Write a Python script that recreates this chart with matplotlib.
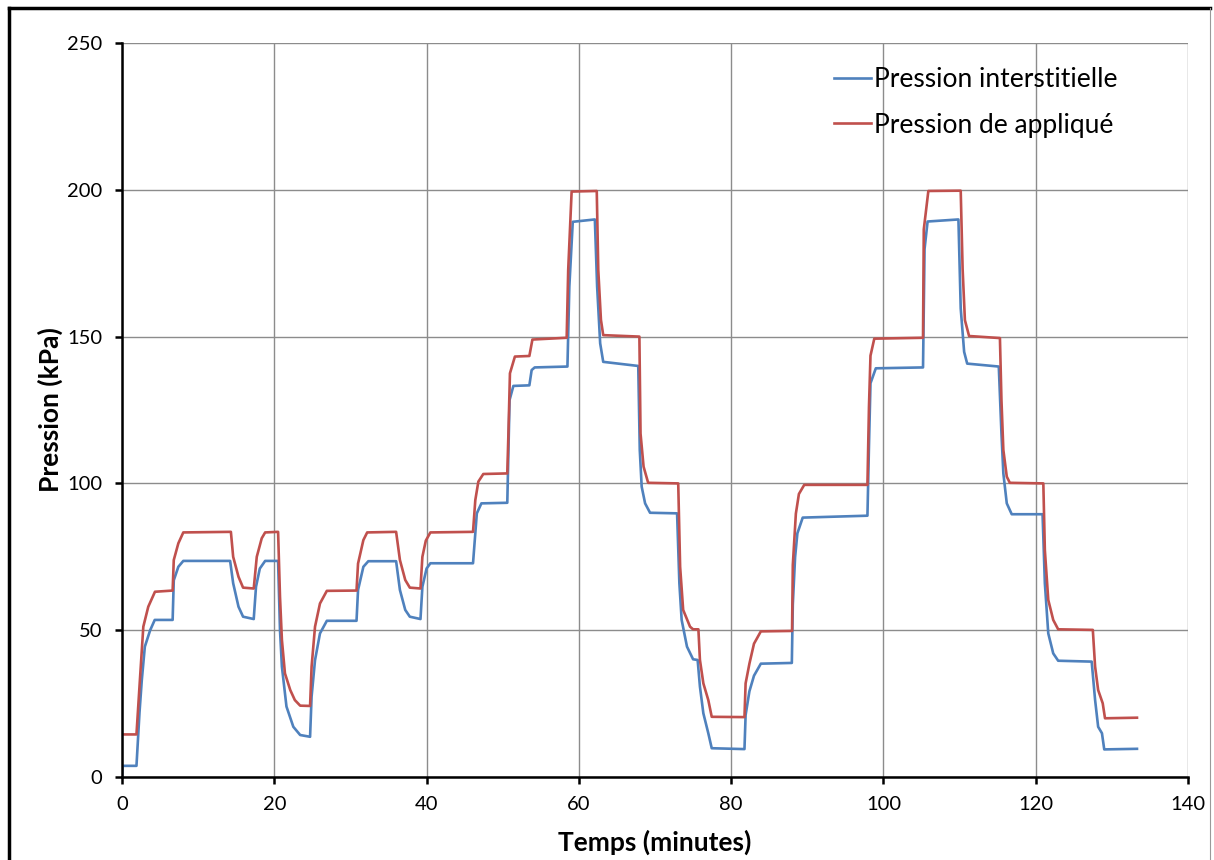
import matplotlib
matplotlib.use('Agg')
import matplotlib.pyplot as plt
from matplotlib.lines import Line2D

matplotlib.rc('font', family=['Lato', 'DejaVu Sans'])

# temps (minutes) et pression interstitielle (kPa)
t_int = [0, 0.05, 1.9, 2.3, 2.6, 3.0, 3.7, 4.3, 6.65, 6.8, 7.4, 8.05, 14.2, 14.6, 15.3, 15.9,
         17.3, 17.6, 18.1, 18.8, 20.5, 20.75, 21.0, 21.6, 22.5, 23.4, 24.7, 24.9, 25.35, 26.0,
         26.9, 30.8, 31.0, 31.7, 32.35, 36.0, 36.5, 37.2, 37.8, 39.2, 39.45, 40.0, 40.5, 46.1,
         46.6, 47.2, 50.6, 50.9, 51.4, 53.5, 53.8, 54.2, 58.5, 58.75, 59.2, 62.1, 62.4, 62.8,
         63.2, 67.8, 68.0, 68.25, 68.7, 69.35, 72.9, 73.2, 73.5, 74.2, 75.0, 75.6, 75.9, 76.35,
         77.0, 77.45, 81.75, 81.9, 82.4, 83.0, 83.9, 87.97, 88.1, 88.4, 88.7, 89.4, 97.9, 98.1,
         98.3, 99.0, 105.2, 105.4, 105.8, 109.85, 110.15, 110.6, 111.0, 115.15, 115.5, 115.75,
         116.2, 116.85, 120.9, 121.2, 121.65, 122.3, 122.95, 127.35, 127.8, 128.2, 128.7, 129.0,
         133.3]
p_int = [0, 3.8, 3.8, 22, 33, 44.4, 50, 53.5, 53.5, 67, 71.6, 73.6, 73.6, 66, 58, 54.6,
         53.8, 64.8, 71, 73.6, 73.6, 50, 37.6, 24, 17.1, 14.3, 13.7, 27.4, 39.8, 48.9,
         53.2, 53.2, 63.7, 71.6, 73.5, 73.5, 63.7, 56.9, 54.6, 53.8, 64.8, 71, 72.8, 72.8,
         89.8, 93.2, 93.4, 128.4, 133.2, 133.4, 138.6, 139.5, 139.8, 167, 189.1, 189.9, 167, 147.7,
         141.4, 140.0, 111.4, 98.9, 93.2, 90, 89.8, 66, 53.5, 44.4, 40.1, 39.85, 30.8, 21.7,
         14.9, 9.8, 9.5, 21.1, 29.2, 34.5, 38.6, 38.85, 58.8, 74.9, 83, 88.35, 89, 112.6,
         134.1, 139.2, 139.5, 179.8, 189.2, 189.9, 159.6, 144.8, 140.8, 139.8, 117, 103.4,
         93.2, 89.5, 89.5, 66, 48.9, 42.1, 39.6, 39.3, 26.2, 17.1, 14.9, 9.4,
         9.6]

# temps (minutes) et pression appliquee (kPa)
t_app = [0, 1.9, 2.35, 2.8, 3.45, 4.33, 6.65, 6.8, 7.4, 8.05, 14.3, 14.6, 15.3, 15.9, 17.3,
         17.7, 18.35, 18.8, 20.5, 20.75, 21.0, 21.4, 22.1, 22.7, 23.4, 24.7, 24.9, 25.35, 26.0,
         26.9, 30.8, 31.0, 31.7, 32.2, 36.0, 36.5, 37.2, 37.8, 39.2, 39.45, 39.9, 40.5, 46.1,
         46.4, 46.8, 47.45, 50.6, 50.75, 50.95, 51.6, 53.5, 53.9, 58.4, 58.6, 59.05, 62.35,
         62.55, 62.9, 63.2, 67.95, 68.1, 68.5, 69.1, 73.05, 73.3, 73.7, 74.6, 75.0, 75.7, 75.9,
         76.35, 77.0, 77.45, 81.75, 81.9, 82.4, 83.0, 83.9, 88.0, 88.1, 88.5, 88.9, 89.6, 97.9,
         98.1, 98.3, 98.8, 105.2, 105.3, 105.9, 110.15, 110.4, 110.7, 111.25, 115.3, 115.5,
         115.75, 116.2, 116.6, 121.0, 121.2, 121.65, 122.3, 122.95, 127.5, 127.8, 128.2, 128.8,
         129.1, 133.3]
p_app = [14.5, 14.5, 33, 51.2, 58, 63.1, 63.5, 73.9, 79.6, 83.3, 83.5, 75, 68.2, 64.5, 64.2,
         75, 81.3, 83.3, 83.5, 61.4, 46.7, 35.3, 29.6, 26.2, 24.3, 24.2, 37.6, 51.2, 59.1,
         63.4, 63.5, 72.7, 80.7, 83.3, 83.5, 73.9, 67.1, 64.5, 64.2, 75, 80.5, 83.3, 83.5,
         94.3, 100.6, 103.2, 103.4, 117, 137.5, 143.2, 143.4, 149, 149.6, 172.7, 199.4, 199.6,
         172.7, 155.7, 150.5, 150, 117, 105.7, 100.2, 100, 71.6, 56.9, 51.2, 50.3, 50.3, 39.9,
         31.9, 26.2, 20.5, 20.4, 31.9, 38.6, 45.4, 49.6, 49.75, 72.2, 89.7, 96.4, 99.5, 99.5,
         126, 143.5, 149.3, 149.6, 186.5, 199.6, 199.7, 173, 155.6, 150.2, 149.5, 128.4,
         111.4, 102.3, 100.2, 100, 77.3, 60.3, 53.5, 50.3, 50.1, 37.6, 29.6, 25.1,
         20, 20.2]

fig = plt.figure(figsize=(12.14, 8.6), dpi=100)
ax = fig.add_axes([122 / 1214, 1 - 777 / 860, (1188 - 122) / 1214, (777 - 43) / 860])

ax.plot(t_int, p_int, color='#4F81BD', lw=1.9, label='Pression interstitielle')
ax.plot(t_app, p_app, color='#C0504D', lw=1.9, label='Pression de appliqué')

ax.set_xlim(0, 140)
ax.set_ylim(0, 250)
ax.set_xticks(range(0, 141, 20))
ax.set_yticks(range(0, 251, 50))
ax.grid(True, color='#8c8c8c', lw=1.0)
ax.set_axisbelow(True)
for s in ['top', 'right']:
    ax.spines[s].set_visible(False)
for s in ['left', 'bottom']:
    ax.spines[s].set_linewidth(1.8)
    ax.spines[s].set_color('black')
ax.tick_params(direction='out', length=5, width=1.8, labelsize=14.5, pad=9, colors='black')

ax.set_xlabel('Temps (minutes)', fontsize=19, fontweight='bold', labelpad=12)
ax.set_ylabel('Pression (kPa)', fontsize=19, fontweight='bold', labelpad=3)

ax.legend(loc='upper left', bbox_to_anchor=(834 / 1214, 1 - 67 / 860), bbox_transform=fig.transFigure,
          frameon=False, fontsize=19, handlelength=1.4, handletextpad=0.1, labelspacing=0.78,
          borderpad=0, borderaxespad=0)

# cadre exterieur
fig.add_artist(Line2D([9 / 1214, 9 / 1214], [0, 1 - 8 / 860], transform=fig.transFigure, color='black', lw=2.5))
fig.add_artist(Line2D([9 / 1214, 1210 / 1214], [1 - 8 / 860, 1 - 8 / 860], transform=fig.transFigure, color='black', lw=2.5))
fig.add_artist(Line2D([1210 / 1214, 1210 / 1214], [0, 1 - 8 / 860], transform=fig.transFigure, color='#999999', lw=0.8))

fig.savefig('out.png', dpi=100)
